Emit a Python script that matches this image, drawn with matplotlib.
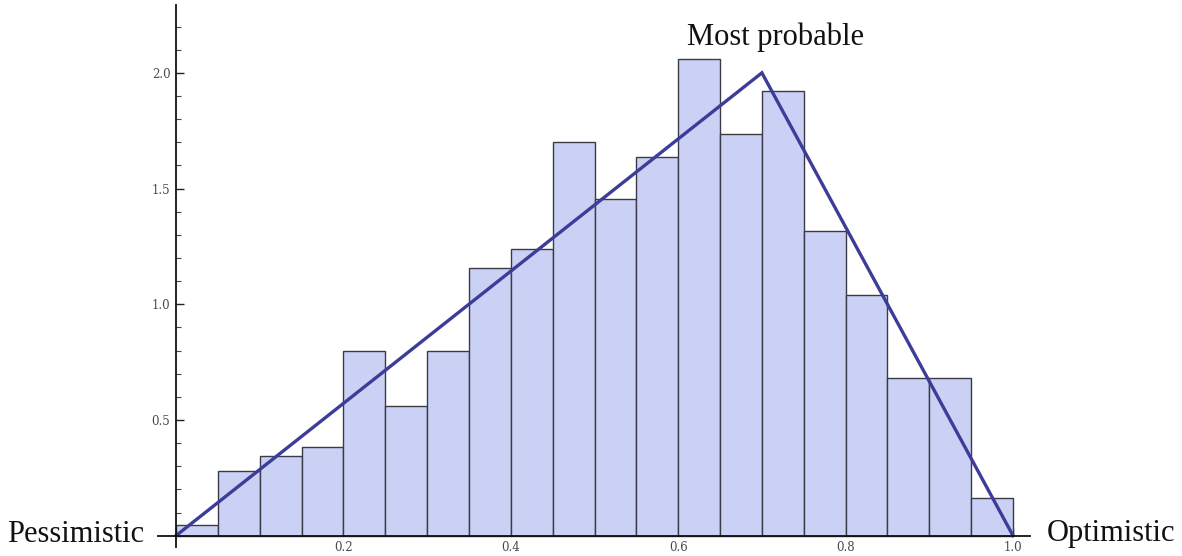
import matplotlib
matplotlib.use("Agg")
import matplotlib.pyplot as plt
from matplotlib.ticker import MultipleLocator, FixedLocator
import numpy as np

# Data
bin_edges = [round(0.05 * i, 2) for i in range(21)]
densities = [0.045, 0.28, 0.343, 0.383, 0.80, 0.56, 0.80, 1.158, 1.24, 1.70,
             1.456, 1.635, 2.06, 1.735, 1.92, 1.317, 1.04, 0.683, 0.683, 0.164]
tri_x = [0.0, 0.7, 1.0]
tri_y = [0.0, 2.0, 0.0]
x_ticks = [0.2, 0.4, 0.6, 0.8, 1.0]
x_tick_labels = ["0.2", "0.4", "0.6", "0.8", "1.0"]
y_ticks = [0.5, 1.0, 1.5, 2.0]
y_tick_labels = ["0.5", "1.0", "1.5", "2.0"]

W, H = 1182, 556
fig = plt.figure(figsize=(W / 100, H / 100), dpi=100)
ax = fig.add_axes([158 / W, (H - 547) / H, 872 / W, 542 / H])

ax.bar(bin_edges[:-1], densities, width=0.05, align="edge",
       color="#cad1f4", edgecolor="#3b3b48", linewidth=1.0, zorder=2)
ax.plot(tri_x, tri_y, color="#3d3d99", linewidth=2.4, zorder=3,
        solid_joinstyle="miter")

ax.set_xlim(-0.0215, 1.0203)
ax.set_ylim(-0.049, 2.293)

for s in ["top", "right"]:
    ax.spines[s].set_visible(False)
ax.spines["left"].set_position(("data", 0))
ax.spines["bottom"].set_position(("data", 0))
for s in ["left", "bottom"]:
    ax.spines[s].set_linewidth(1.3)
    ax.spines[s].set_color("#111111")
    ax.spines[s].set_zorder(4)

ax.xaxis.set_major_locator(FixedLocator(x_ticks))
ax.set_xticklabels(x_tick_labels)
ax.yaxis.set_major_locator(FixedLocator(y_ticks))
ax.set_yticklabels(y_tick_labels)
ax.xaxis.set_minor_locator(MultipleLocator(0.05))
ax.yaxis.set_minor_locator(MultipleLocator(0.1))

ax.tick_params(axis="both", which="major", direction="in", length=6, width=1.0,
               color="#222222", labelsize=8.5, labelcolor="#4a4a4a")
ax.tick_params(axis="both", which="minor", direction="in", length=3.5, width=0.8,
               color="#444444")
ax.tick_params(axis="x", pad=4)
ax.tick_params(axis="y", pad=4)
for lab in ax.get_xticklabels() + ax.get_yticklabels():
    lab.set_family("DejaVu Serif")

serif = ["Liberation Serif", "DejaVu Serif"]
fig.text(75.5 / W, 1 - 541.5 / H, "Pessimistic", ha="center", va="baseline",
         fontsize=22, family=serif, color="#111111")
fig.text(1111 / W, 1 - 541.5 / H, "Optimistic", ha="center", va="baseline",
         fontsize=22, family=serif, color="#111111")
fig.text(775.5 / W, 1 - 45.5 / H, "Most probable", ha="center", va="baseline",
         fontsize=22, family=serif, color="#111111")

fig.savefig("out.png", dpi=100)
